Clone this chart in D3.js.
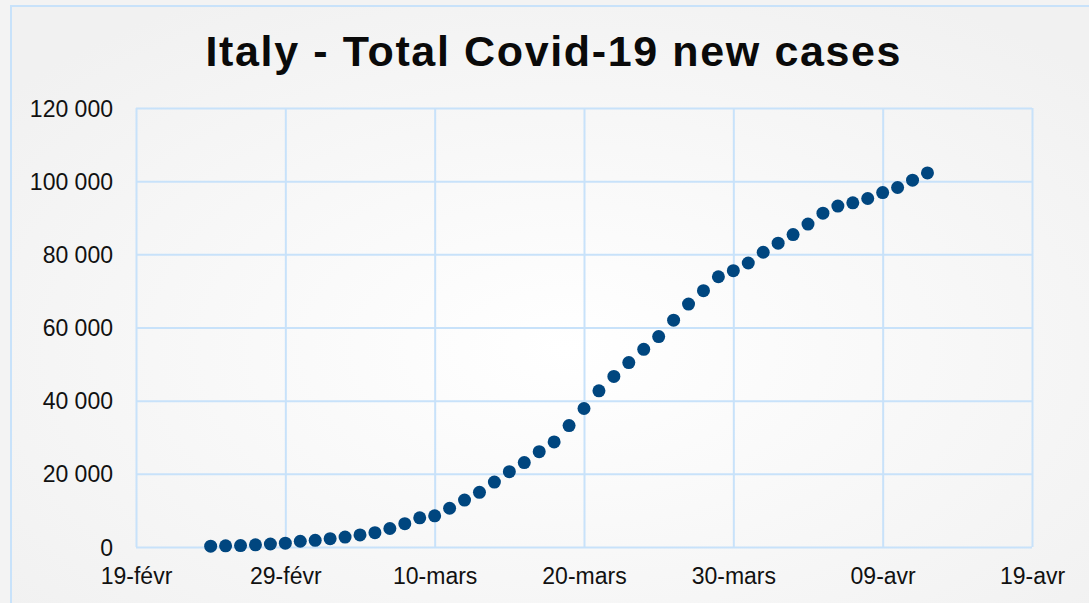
<!DOCTYPE html>
<html>
<head>
<meta charset="utf-8">
<script src="https://cdn.jsdelivr.net/npm/d3@7"></script>
<style>
  html, body { margin: 0; padding: 0; background: #f3f3f3; }
  svg { display: block; }
</style>
</head>
<body>
<script>
// Italy - currently positive cases, one value per day from 24 Feb 2020
var startDate = "2020-02-24";
var caseValues = [
    221, 311, 385, 588, 821, 1049, 1577, 1835, 2263, 2706,
    3296, 3916, 5061, 6387, 7985, 8514, 10590, 12839, 14955, 17750,
    20603, 23073, 26062, 28710, 33190, 37860, 42681, 46638, 50418, 54030,
    57521, 62013, 66414, 70065, 73880, 75528, 77635, 80572, 83049, 85388,
    88274, 91246, 93187, 94067, 95262, 96877, 98273, 100269, 102253
];
var xTickDates = ["2020-02-19", "2020-02-29", "2020-03-10", "2020-03-20", "2020-03-30", "2020-04-09", "2020-04-19"];
var xTickLabels = ["19-févr", "29-févr", "10-mars", "20-mars", "30-mars", "09-avr", "19-avr"];
var yTicks = [0, 20000, 40000, 60000, 80000, 100000, 120000];

var width = 1089, height = 603;
var margin = {top: 108, right: 57, bottom: 56, left: 136};
var gridColor = "#c8e2fa";
var dotColor = "#00467f";
var font = "Liberation Sans, Arial, sans-serif";

var parse = d3.utcParse("%Y-%m-%d");
var day0 = parse(startDate);
var data = caseValues.map(function (v, i) {
    return {date: d3.utcDay.offset(day0, i), value: v};
});

var svg = d3.select("body").append("svg")
    .attr("width", width)
    .attr("height", height);

var defs = svg.append("defs");
var grad = defs.append("radialGradient")
    .attr("id", "bg")
    .attr("cx", "50%").attr("cy", "55%").attr("r", "65%");
grad.append("stop").attr("offset", "0%").attr("stop-color", "#ffffff");
grad.append("stop").attr("offset", "100%").attr("stop-color", "#f1f1f1");

// chart frame
svg.append("rect")
    .attr("x", 11).attr("y", 6)
    .attr("width", width + 20).attr("height", height + 20)
    .attr("fill", "url(#bg)")
    .attr("stroke", gridColor)
    .attr("stroke-width", 2);

svg.append("text")
    .attr("x", 553)
    .attr("y", 66)
    .attr("text-anchor", "middle")
    .attr("font-family", font)
    .attr("font-weight", "bold")
    .attr("font-size", 43)
    .attr("textLength", 695)
    .attr("lengthAdjust", "spacing")
    .attr("fill", "#0a0a0a")
    .text("Italy - Total Covid-19 new cases");

var x = d3.scaleUtc()
    .domain([parse(xTickDates[0]), parse(xTickDates[xTickDates.length - 1])])
    .range([margin.left, width - margin.right]);

var y = d3.scaleLinear()
    .domain([0, 120000])
    .range([height - margin.bottom, margin.top]);

var fmt = function (d) { return d3.format(",")(d).replace(/,/g, " "); };

// horizontal grid + y labels
var yAxis = d3.axisLeft(y)
    .tickValues(yTicks)
    .tickSize(-(width - margin.left - margin.right))
    .tickPadding(23)
    .tickFormat(fmt);

svg.append("g")
    .attr("transform", "translate(" + margin.left + ",0)")
    .call(yAxis)
    .call(function (g) {
        g.select(".domain").remove();
        g.selectAll("line").attr("stroke", gridColor).attr("stroke-width", 2);
        g.selectAll("text")
            .attr("font-family", font)
            .attr("font-size", 23)
            .attr("fill", "#111")
            .attr("dy", "0.35em");
    });

// vertical grid + x labels
var xAxis = d3.axisBottom(x)
    .tickValues(xTickDates.map(parse))
    .tickSize(-(height - margin.top - margin.bottom))
    .tickPadding(21)
    .tickFormat(function (d, i) { return xTickLabels[i]; });

svg.append("g")
    .attr("transform", "translate(0," + (height - margin.bottom) + ")")
    .call(xAxis)
    .call(function (g) {
        g.select(".domain").remove();
        g.selectAll("line").attr("stroke", gridColor).attr("stroke-width", 2);
        g.selectAll("text")
            .attr("font-family", font)
            .attr("font-size", 23)
            .attr("fill", "#111");
    });

svg.append("g")
    .selectAll("circle")
    .data(data)
    .join("circle")
    .attr("cx", function (d) { return x(d.date); })
    .attr("cy", function (d) { return y(d.value); })
    .attr("r", 6.5)
    .attr("fill", dotColor);
</script>
</body>
</html>
